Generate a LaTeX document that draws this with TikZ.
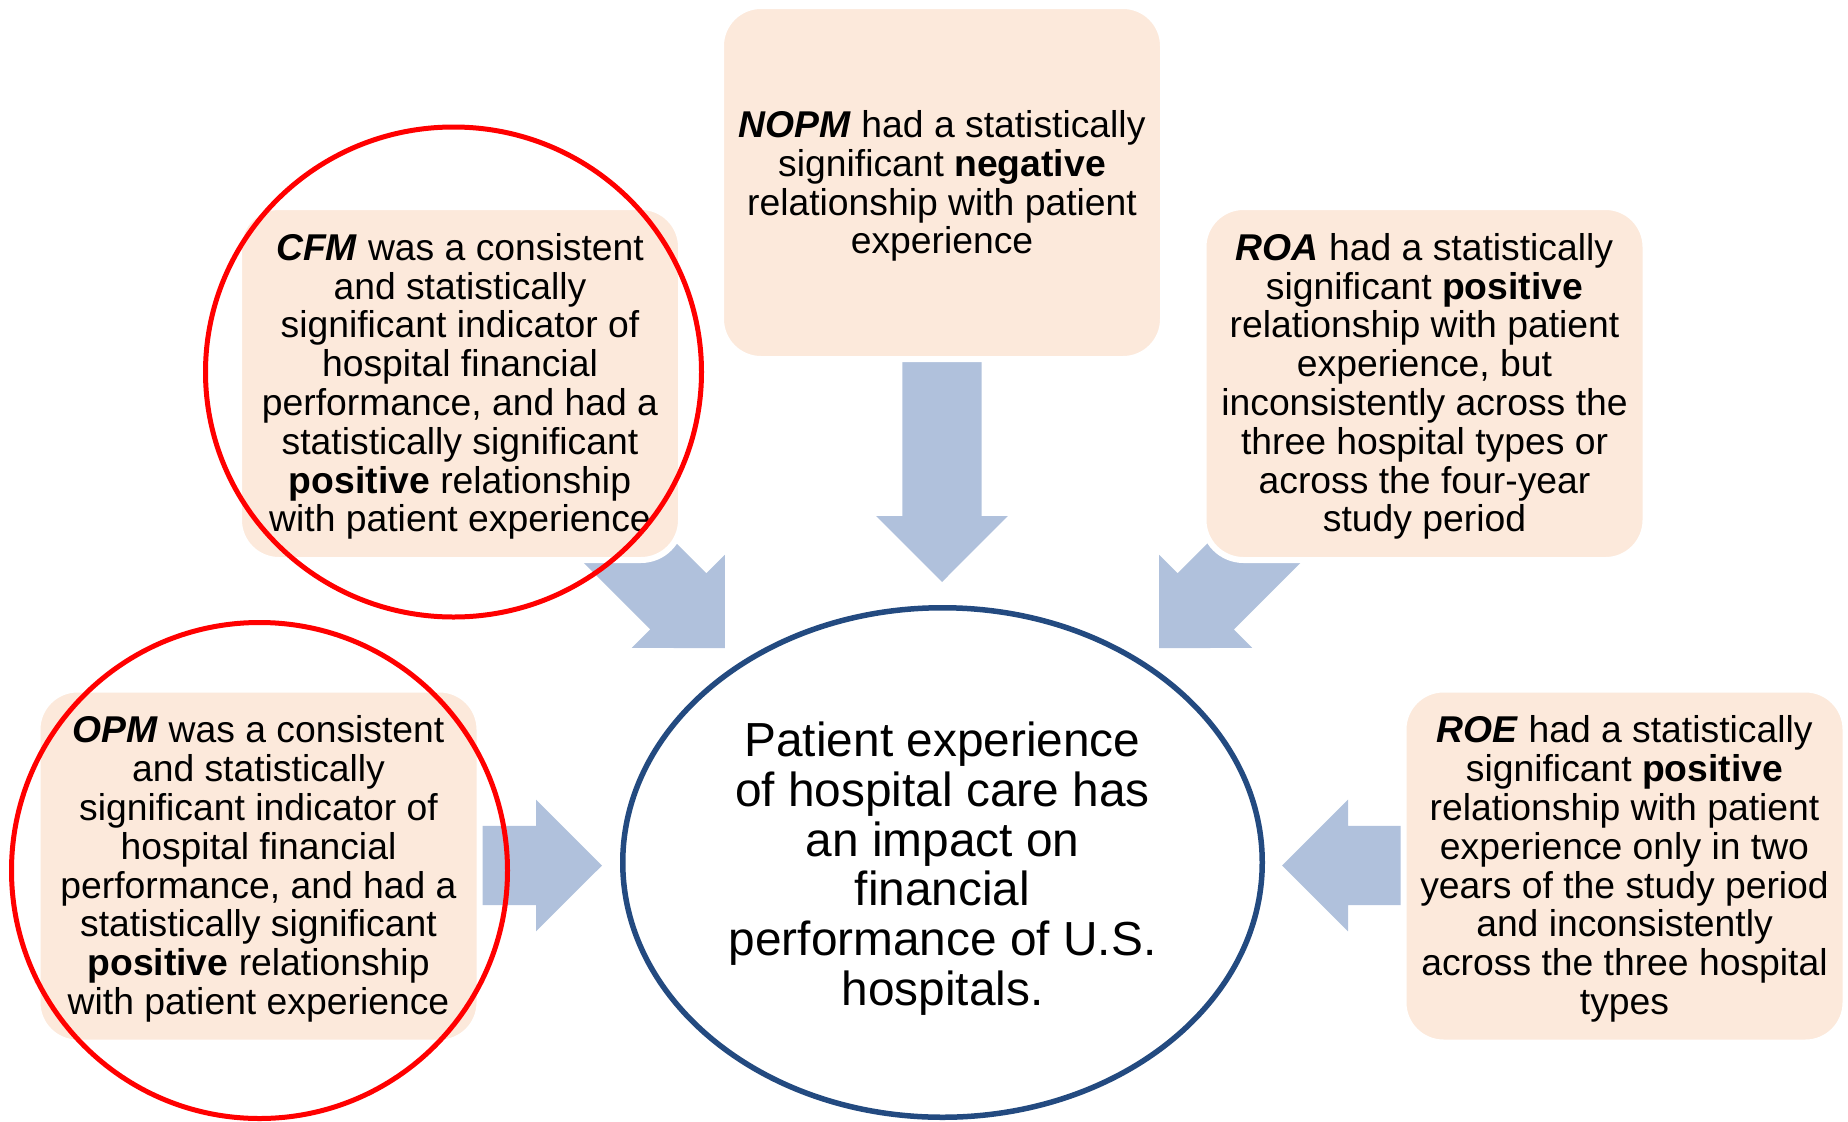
\documentclass[tikz,border=0pt]{standalone}
\usepackage{fontspec}
\setmainfont{Liberation Sans}
\usetikzlibrary{shapes.geometric}
\definecolor{peach}{HTML}{FCE9DB}
\definecolor{arrowblue}{HTML}{B0C1DC}
\definecolor{coreblue}{HTML}{234A80}
% extra room above the first line of a text block
\newcommand\headroom[1]{\rule{0pt}{#1}}
\begin{document}
\begin{tikzpicture}[x=1pt,y=-1pt,
  finding/.style={rectangle, rounded corners=40pt, fill=peach, draw=white,
    line width=6pt, minimum width=442pt, minimum height=353pt, inner sep=0pt,
    align=center, text=black, font=\fontsize{37.3}{38.8}\selectfont},
  core/.style={ellipse, fill=white, draw=coreblue, line width=5.5pt,
    minimum width=639.5pt, minimum height=509.5pt, inner sep=0pt,
    align=center, text=black, font=\fontsize{47.8}{49.8}\selectfont},
  ring/.style={ellipse, draw=red, line width=5pt, inner sep=0pt},
  blockarrow/.pic={\fill[arrowblue] (-160,-39.7) -- (0,-39.7) -- (0,-65.8)
    -- (66,0) -- (0,65.8) -- (0,39.7) -- (-160,39.7) -- cycle;}]
\useasboundingbox (0,0) rectangle (1848,1122);

% head bases of the block arrows
\coordinate (nopmhead) at (942,516);
\coordinate (cfmhead)  at (678.3,601.4);
\coordinate (roahead)  at (1205.7,601.4);
\coordinate (opmhead)  at (536,865.5);
\coordinate (roehead)  at (1348,865.5);

% block arrows pointing at the central statement
\pic[rotate=-90]  at (nopmhead) {blockarrow};
\pic[rotate=-45]  at (cfmhead)  {blockarrow};
\pic[rotate=-135] at (roahead)  {blockarrow};
\pic              at (opmhead)  {blockarrow};
\pic[rotate=180]  at (roehead)  {blockarrow};

% findings
\node[finding] (nopm) at (942,182.5)
  {\headroom{34pt}\textbf{\textit{NOPM}} had a statistically\\
   significant \textbf{negative}\\
   relationship with patient\\
   experience};
\node[finding] (cfm) at (460,383.5)
  {\headroom{33pt}\textbf{\textit{CFM}} was a consistent\\
   and statistically\\
   significant indicator of\\
   hospital financial\\
   performance, and had a\\
   statistically significant\\
   \textbf{positive} relationship\\
   with patient experience};
\node[finding] (roa) at (1424.5,383.5)
  {\headroom{33pt}\textbf{\textit{ROA}} had a statistically\\
   significant \textbf{positive}\\
   relationship with patient\\
   experience, but\\
   inconsistently across the\\
   three hospital types or\\
   across the four-year\\
   study period};
\node[finding] (opm) at (258.5,866)
  {\headroom{33pt}\textbf{\textit{OPM}} was a consistent\\
   and statistically\\
   significant indicator of\\
   hospital financial\\
   performance, and had a\\
   statistically significant\\
   \textbf{positive} relationship\\
   with patient experience};
\node[finding] (roe) at (1624.5,866)
  {\headroom{33pt}\textbf{\textit{ROE}} had a statistically\\
   significant \textbf{positive}\\
   relationship with patient\\
   experience only in two\\
   years of the study period\\
   and inconsistently\\
   across the three hospital\\
   types};

% central statement
\node[core] (impact) at (942.5,862.5)
  {\headroom{47pt}Patient experience\\
   of hospital care has\\
   an impact on\\
   financial\\
   performance of U.S.\\
   hospitals.};

% highlighted findings
\node[ring, minimum width=496pt, minimum height=490pt] (cfmring) at (453.5,372) {};
\node[ring, minimum width=496pt, minimum height=496pt] (opmring) at (259.5,870.5) {};
\end{tikzpicture}
\end{document}
